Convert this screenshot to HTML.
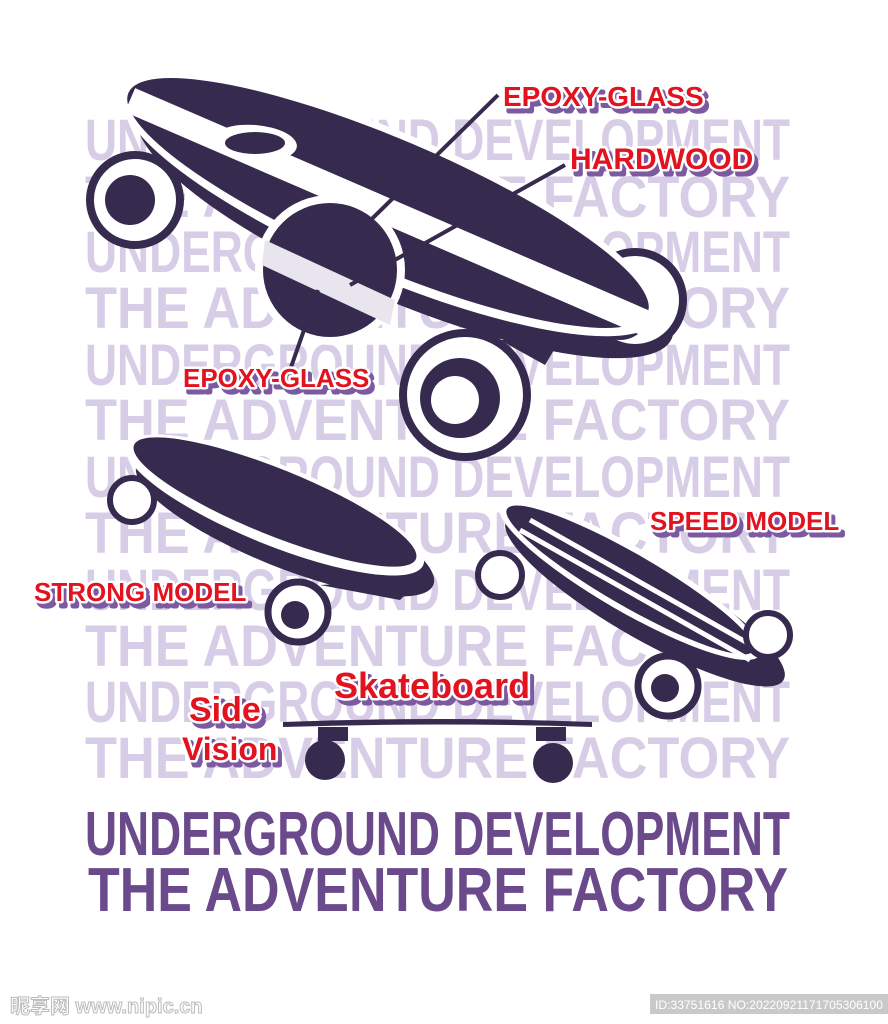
<!DOCTYPE html>
<html><head><meta charset="utf-8"><style>
html,body{margin:0;padding:0;background:#fff;width:888px;height:1024px;overflow:hidden}
svg{display:block}
.bg{font-family:"Liberation Sans",sans-serif;font-weight:bold;fill:#d8cde6}
.ft{font-family:"Liberation Sans",sans-serif;font-weight:bold;fill:#6b4a8b}
.lb{font-family:"Liberation Sans",sans-serif;font-weight:bold;fill:#e3121f;stroke:#fff;stroke-width:5;paint-order:stroke;stroke-linejoin:round}
.sh{font-family:"Liberation Sans",sans-serif;font-weight:bold;fill:#7d5aa0;stroke:#7d5aa0;stroke-width:5;stroke-linejoin:round}
</style></head><body>
<svg width="888" height="1024" viewBox="0 0 888 1024" xmlns="http://www.w3.org/2000/svg">
<rect width="888" height="1024" fill="#fff"/>
<g class="bg" font-size="58">
<text x="85" y="160" textLength="705" lengthAdjust="spacingAndGlyphs">UNDERGROUND DEVELOPMENT</text>
<text x="85" y="217" textLength="705" lengthAdjust="spacingAndGlyphs">THE ADVENTURE FACTORY</text>
<text x="85" y="272" textLength="705" lengthAdjust="spacingAndGlyphs">UNDERGROUND DEVELOPMENT</text>
<text x="85" y="328" textLength="705" lengthAdjust="spacingAndGlyphs">THE ADVENTURE FACTORY</text>
<text x="85" y="385" textLength="705" lengthAdjust="spacingAndGlyphs">UNDERGROUND DEVELOPMENT</text>
<text x="85" y="440" textLength="705" lengthAdjust="spacingAndGlyphs">THE ADVENTURE FACTORY</text>
<text x="85" y="497" textLength="705" lengthAdjust="spacingAndGlyphs">UNDERGROUND DEVELOPMENT</text>
<text x="85" y="553" textLength="705" lengthAdjust="spacingAndGlyphs">THE ADVENTURE FACTORY</text>
<text x="85" y="610" textLength="705" lengthAdjust="spacingAndGlyphs">UNDERGROUND DEVELOPMENT</text>
<text x="85" y="666" textLength="705" lengthAdjust="spacingAndGlyphs">THE ADVENTURE FACTORY</text>
<text x="85" y="722" textLength="705" lengthAdjust="spacingAndGlyphs">UNDERGROUND DEVELOPMENT</text>
<text x="85" y="778" textLength="705" lengthAdjust="spacingAndGlyphs">THE ADVENTURE FACTORY</text>
</g>
<g class="ft" font-size="62">
<text x="85" y="855" textLength="705" lengthAdjust="spacingAndGlyphs">UNDERGROUND DEVELOPMENT</text>
<text x="88" y="911" textLength="700" lengthAdjust="spacingAndGlyphs">THE ADVENTURE FACTORY</text>
</g>

<!-- big board -->
<g fill="#362a4f">
<ellipse cx="405" cy="225" rx="290" ry="76" transform="rotate(23 405 225)"/>
<circle cx="135" cy="200" r="45" fill="#fff" stroke="#362a4f" stroke-width="8"/>
<circle cx="130" cy="200" r="25" fill="#362a4f"/>
<path d="M500 340 L560 340 L545 365 Z"/>
<circle cx="635" cy="300" r="48" fill="#fff" stroke="#362a4f" stroke-width="8"/>
<circle cx="620" cy="310" r="30"/>
<ellipse cx="390" cy="205" rx="290" ry="72" transform="rotate(23 390 205)" fill="#fff"/>
<ellipse cx="388" cy="203" rx="282" ry="64" transform="rotate(23 388 203)"/>
<path d="M130 100 L650 325" stroke="#fff" stroke-width="26"/>
<ellipse cx="255" cy="143" rx="42" ry="18" fill="#fff" transform="rotate(5 255 143)"/>
<ellipse cx="255" cy="143" rx="30" ry="11"/>
<circle cx="330" cy="270" r="75" fill="#fff"/>
<circle cx="330" cy="270" r="67"/>
<path d="M265 240 L395 300 L390 325 L262 265 Z" fill="#e9e5ef"/>
<circle cx="465" cy="395" r="62" fill="#fff" stroke="#362a4f" stroke-width="8"/>
<circle cx="460" cy="398" r="40"/>
<circle cx="455" cy="400" r="24" fill="#fff"/>
</g>
<g stroke="#362a4f" stroke-width="4">
<line x1="498" y1="95" x2="330" y2="260"/>
<line x1="565" y1="165" x2="350" y2="285"/>
<line x1="318" y1="290" x2="290" y2="370"/>
</g>

<!-- strong model -->
<g fill="#362a4f">
<ellipse cx="285" cy="525" rx="160" ry="42" transform="rotate(22 285 525)"/>
<ellipse cx="275" cy="505" rx="160" ry="40" transform="rotate(22 275 505)" fill="#fff"/>
<ellipse cx="275" cy="502" rx="152" ry="33" transform="rotate(22 275 502)"/>
<circle cx="132" cy="500" r="22" fill="#fff" stroke="#362a4f" stroke-width="6"/>
<circle cx="298" cy="612" r="30" fill="#fff" stroke="#362a4f" stroke-width="7"/>
<circle cx="295" cy="615" r="14"/>
<path d="M320 585 L400 600 L420 580 Z"/>
</g>

<!-- speed model -->
<g fill="#362a4f">
<ellipse cx="645" cy="600" rx="160" ry="38" transform="rotate(30 645 600)"/>
<ellipse cx="630" cy="580" rx="150" ry="32" transform="rotate(30 630 580)" fill="#fff"/>
<ellipse cx="630" cy="580" rx="142" ry="26" transform="rotate(30 630 580)"/>
<path d="M520 530 L750 660 M530 520 L760 650" stroke="#fff" stroke-width="5"/>
<circle cx="500" cy="575" r="22" fill="#fff" stroke="#362a4f" stroke-width="6"/>
<circle cx="768" cy="635" r="22" fill="#fff" stroke="#362a4f" stroke-width="6"/>
<circle cx="668" cy="686" r="30" fill="#fff" stroke="#362a4f" stroke-width="7"/>
<circle cx="665" cy="688" r="14"/>
</g>

<!-- side view -->
<g fill="#362a4f">
<path d="M283 722 Q440 716 592 722 L592 727 Q440 722 283 727 Z"/>
<rect x="318" y="727" width="30" height="14"/>
<rect x="536" y="727" width="30" height="14"/>
<circle cx="325" cy="760" r="20"/>
<circle cx="553" cy="763" r="20"/>
</g>

<g font-size="28">
<text class="sh" x="507" y="111">EPOXY-GLASS</text><text class="lb" x="503" y="106">EPOXY-GLASS</text>
<text class="sh" x="574" y="174" font-size="30">HARDWOOD</text><text class="lb" x="570" y="169" font-size="30">HARDWOOD</text>
<text class="sh" x="187" y="392" font-size="26">EPOXY-GLASS</text><text class="lb" x="183" y="387" font-size="26">EPOXY-GLASS</text>
<text class="sh" x="654" y="535" font-size="26">SPEED MODEL</text><text class="lb" x="650" y="530" font-size="26">SPEED MODEL</text>
<text class="sh" x="38" y="606" font-size="26">STRONG MODEL</text><text class="lb" x="34" y="601" font-size="26">STRONG MODEL</text>
<text class="sh" x="338" y="703" font-size="36">Skateboard</text><text class="lb" x="334" y="698" font-size="36">Skateboard</text>
<text class="sh" x="193" y="726" font-size="34">Side</text><text class="lb" x="189" y="721" font-size="34">Side</text>
<text class="sh" x="186" y="765" font-size="32">Vision</text><text class="lb" x="182" y="760" font-size="32">Vision</text>
</g>

<text x="10" y="1013" font-family="Liberation Sans,'Noto Sans CJK SC',sans-serif" font-size="20" font-weight="bold" fill="#fff" stroke="#bbb" stroke-width="1">昵享网 www.nipic.cn</text>
<rect x="650" y="994" width="238" height="20" fill="#c9c9c9"/>
<text x="655" y="1009" font-family="Liberation Sans,sans-serif" font-size="12" fill="#fff" textLength="228" lengthAdjust="spacingAndGlyphs">ID:33751616 NO:20220921171705306100</text>
</svg>
</body></html>
